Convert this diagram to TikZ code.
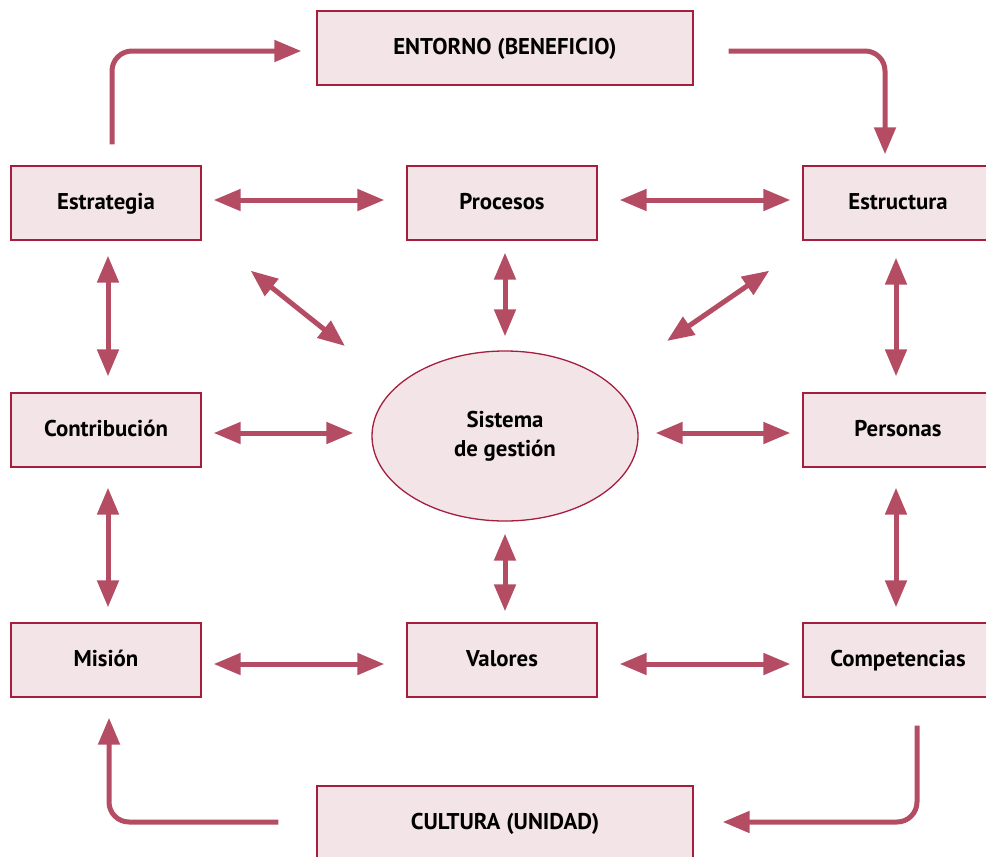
\documentclass[tikz,border=0pt]{standalone}
\usepackage{fontspec}
\setmainfont{PT Sans}
\usetikzlibrary{arrows.meta,shapes.geometric}
\definecolor{arr}{HTML}{B44D64}
\definecolor{bfill}{HTML}{F3E4E8}
\definecolor{bline}{HTML}{A51E3E}
\begin{document}
\begin{tikzpicture}[x=1pt,y=-1pt,
  lbl/.style={font=\fontsize{22.8}{29}\selectfont\bfseries},
  box/.style={lbl,draw=bline,fill=bfill,line width=1.3pt,minimum width=190pt,minimum height=74pt,inner sep=0pt,text height=16pt,text depth=4pt},
  widebox/.style={box,minimum width=376pt},
  ell/.style={lbl,ellipse,draw=bline,fill=bfill,line width=1.3pt,minimum width=266pt,minimum height=170pt,inner sep=0pt,align=center},
  conn/.style={draw=arr,line width=5pt,-{Triangle[length=27pt,width=21pt]}},
  dbl/.style={conn,{Triangle[length=27pt,width=21pt]}-{Triangle[length=27pt,width=21pt]}}
]
\useasboundingbox (0,0) rectangle (986,857);
\clip (0,0) rectangle (986,857);
\node[widebox] (ent) at (505,48) {ENTORNO (BENEFICIO)};
\node[widebox] (cul) at (505,823) {CULTURA (UNIDAD)};
\node[box] (estr) at (106,203) {Estrategia};
\node[box] (proc) at (502,203) {Procesos};
\node[box] (estc) at (898,203) {Estructura};
\node[box] (contr) at (106,430) {Contribución};
\node[box] (pers) at (898,430) {Personas};
\node[box] (mis) at (106,660) {Misión};
\node[box] (val) at (502,660) {Valores};
\node[box] (comp) at (898,660) {Competencias};
\node[ell] (sys) at (505,436) {Sistema\\de gestión};
% loops
\draw[conn,rounded corners=20pt] ([xshift=6,yshift=21]estr.north) |- ([xshift=-15,yshift=-3]ent.west);
\draw[conn,rounded corners=20pt] ([xshift=35,yshift=-3]ent.east) -| ([xshift=-13,yshift=11]estc.north);
\draw[conn,rounded corners=20pt] ([xshift=19,yshift=-28]comp.south) |- ([xshift=29,yshift=1]cul.east);
\draw[conn,rounded corners=20pt] ([xshift=-38,yshift=1]cul.west) -| ([xshift=3,yshift=-20]mis.south);
% rows
\draw[dbl] ([xshift=12,yshift=3]estr.east) -- ([xshift=-22,yshift=3]proc.west);
\draw[dbl] ([xshift=22,yshift=3]proc.east) -- ([xshift=-12,yshift=3]estc.west);
\draw[dbl] ([xshift=12,yshift=-3]contr.east) -- ([xshift=-18,yshift=3]sys.west);
\draw[dbl] ([xshift=17,yshift=3]sys.east) -- ([xshift=-12,yshift=-3]pers.west);
\draw[dbl] ([xshift=12,yshift=-4]mis.east) -- ([xshift=-22,yshift=-4]val.west);
\draw[dbl] ([xshift=22,yshift=-4]val.east) -- ([xshift=-12,yshift=-4]comp.west);
% columns
\draw[dbl] ([xshift=2,yshift=-15]estr.south) -- ([xshift=2,yshift=16]contr.north);
\draw[dbl] ([xshift=2,yshift=-20]contr.south) -- ([xshift=2,yshift=15]mis.north);
\draw[dbl] ([xshift=-2,yshift=-17]estc.south) -- ([xshift=-2,yshift=16]pers.north);
\draw[dbl] ([xshift=-2,yshift=-20]pers.south) -- ([xshift=-2,yshift=15]comp.north);
\draw[dbl] ([xshift=3,yshift=-12]proc.south) -- ([yshift=14]sys.north);
\draw[dbl] ([yshift=-12]sys.south) -- ([xshift=3,yshift=11]val.north);
% diagonals
\draw[dbl] ([xshift=49,yshift=-30]estr.south east) -- ([xshift=-160,yshift=90]sys.center);
\draw[dbl] ([xshift=-33,yshift=-30]estc.south west) -- ([xshift=162,yshift=95]sys.center);
\end{tikzpicture}
\end{document}
